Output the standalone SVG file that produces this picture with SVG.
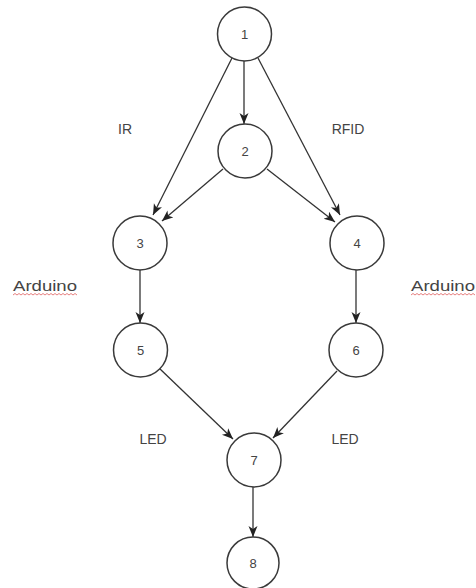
<svg xmlns="http://www.w3.org/2000/svg" width="476" height="588" viewBox="0 0 476 588">
  <style>
    .node circle { fill: #ffffff; stroke: #3a3a3a; stroke-width: 1.5; }
    .node text { font-family: "Liberation Sans", Arial, sans-serif; font-size: 13px; fill: #444444; text-anchor: middle; }
    .edge { stroke: #333333; stroke-width: 1.3; fill: none; marker-end: url(#arrow); }
    .label { font-family: "Liberation Sans", Arial, sans-serif; font-size: 14px; fill: #444444; text-anchor: middle; }
    .squiggle { stroke: #e06060; stroke-width: 0.8; fill: none; }
  </style>
  <defs>
    <marker id="arrow" markerUnits="userSpaceOnUse" markerWidth="12" markerHeight="10" refX="11" refY="4.5" orient="auto">
      <path d="M0,0 L11,4.5 L0,9 L3,4.5 Z" fill="#222222"/>
    </marker>
  </defs>
  <rect width="476" height="588" fill="#ffffff"/>

  <!-- connectors -->
  <g id="connectors">
    <line class="edge" x1="244" y1="61" x2="244" y2="124"/>
    <line class="edge" x1="232" y1="58" x2="153" y2="215"/>
    <line class="edge" x1="258" y1="58" x2="340" y2="215"/>
    <line class="edge" x1="223" y1="169" x2="162" y2="221"/>
    <line class="edge" x1="267" y1="169" x2="335" y2="222"/>
    <line class="edge" x1="140" y1="270" x2="140" y2="323"/>
    <line class="edge" x1="356" y1="270" x2="356" y2="323"/>
    <line class="edge" x1="159" y1="368" x2="233" y2="439"/>
    <line class="edge" x1="337" y1="371" x2="273" y2="438"/>
    <line class="edge" x1="253" y1="487" x2="253" y2="537"/>
  </g>

  <!-- nodes -->
  <g id="n1" class="node"><circle cx="244.5" cy="34" r="27"/><text x="244.5" y="38.5">1</text></g>
  <g id="n2" class="node"><circle cx="245" cy="151" r="27"/><text x="245" y="155.5">2</text></g>
  <g id="n3" class="node"><circle cx="140" cy="243" r="27"/><text x="140" y="247.5">3</text></g>
  <g id="n4" class="node"><circle cx="357" cy="243" r="27"/><text x="357" y="247.5">4</text></g>
  <g id="n5" class="node"><circle cx="140.5" cy="350" r="27"/><text x="140.5" y="354.5">5</text></g>
  <g id="n6" class="node"><circle cx="356" cy="350" r="27"/><text x="356" y="354.5">6</text></g>
  <g id="n7" class="node"><circle cx="254" cy="460" r="27"/><text x="254" y="464.5">7</text></g>
  <g id="n8" class="node"><circle cx="253" cy="563" r="26"/><text x="253" y="567.5">8</text></g>

  <!-- edge labels -->
  <g id="labels">
    <text class="label" x="125" y="134">IR</text>
    <text class="label" x="348" y="134">RFID</text>
    <text class="label" x="153" y="444">LED</text>
    <text class="label" x="345" y="444">LED</text>
    <text class="label" x="45" y="291" textLength="64" lengthAdjust="spacingAndGlyphs">Arduino</text>
    <text class="label" x="443" y="291" textLength="64" lengthAdjust="spacingAndGlyphs">Arduino</text>
    <polyline class="squiggle" points="13,295 15,293.5 17,295 19,293.5 21,295 23,293.5 25,295 27,293.5 29,295 31,293.5 33,295 35,293.5 37,295 39,293.5 41,295 43,293.5 45,295 47,293.5 49,295 51,293.5 53,295 55,293.5 57,295 59,293.5 61,295 63,293.5 65,295 67,293.5 69,295 71,293.5 73,295 75,293.5 77,295"/>
    <polyline class="squiggle" points="411,295 413,293.5 415,295 417,293.5 419,295 421,293.5 423,295 425,293.5 427,295 429,293.5 431,295 433,293.5 435,295 437,293.5 439,295 441,293.5 443,295 445,293.5 447,295 449,293.5 451,295 453,293.5 455,295 457,293.5 459,295 461,293.5 463,295 465,293.5 467,295 469,293.5 471,295 473,293.5 475,295"/>
  </g>
</svg>
